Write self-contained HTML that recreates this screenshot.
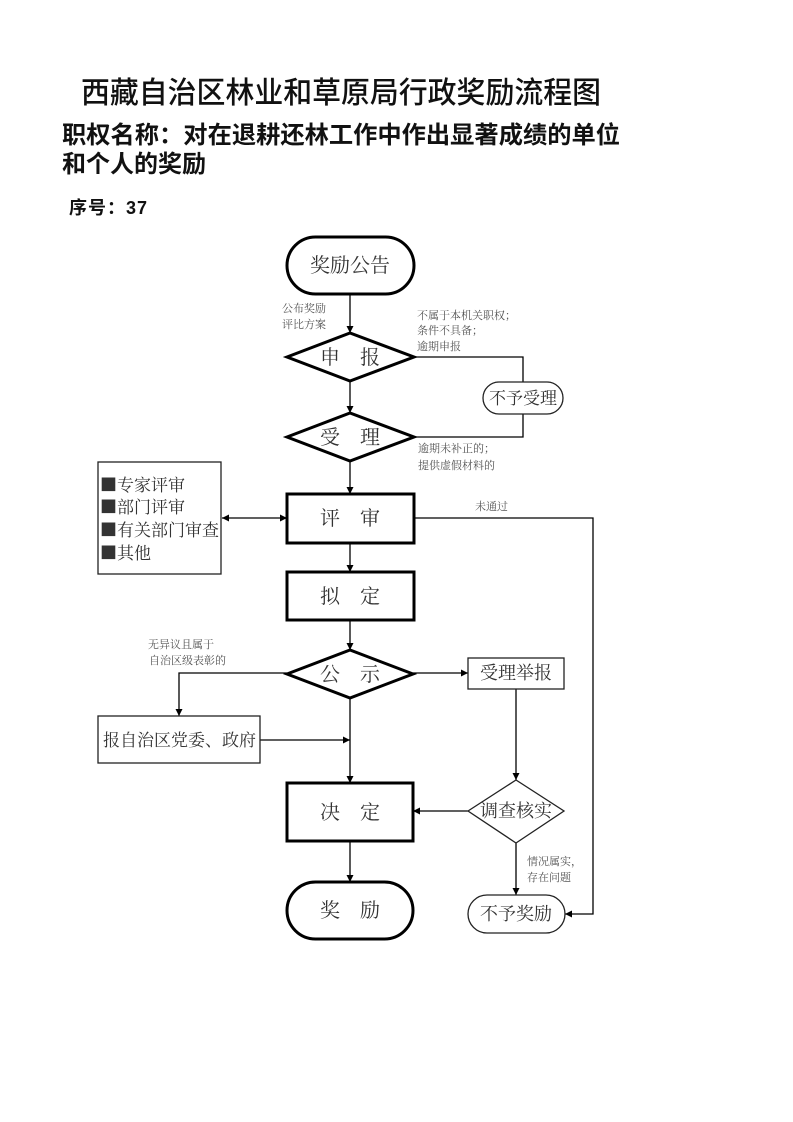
<!DOCTYPE html>
<html>
<head>
<meta charset="utf-8">
<style>
html,body{margin:0;padding:0;background:#fff;}
svg{display:block;}
.t{font-family:"Liberation Sans","Noto Sans CJK SC",sans-serif;fill:#111;}
.n{font-family:"Liberation Serif","Noto Serif CJK SC",serif;fill:#333;}
.c{font-family:"Noto Serif CJK SC",serif;fill:#333;}
.s{font-family:"Liberation Serif","Noto Serif CJK SC",serif;fill:#555;font-size:11px;}
</style>
</head>
<body>
<svg width="793" height="1122" viewBox="0 0 793 1122" xmlns="http://www.w3.org/2000/svg">
<defs>
<marker id="a" viewBox="0 0 10 10" refX="10" refY="5" markerWidth="7" markerHeight="7" markerUnits="userSpaceOnUse" orient="auto">
<path d="M0,0 L10,5 L0,10 z" fill="#000"/>
</marker>
<marker id="b" viewBox="0 0 10 10" refX="0" refY="5" markerWidth="7" markerHeight="7" markerUnits="userSpaceOnUse" orient="auto">
<path d="M10,0 L0,5 L10,10 z" fill="#000"/>
</marker>
</defs>

<!-- Titles -->
<text class="t" x="81" y="103" font-size="30" font-weight="500" textLength="520" lengthAdjust="spacingAndGlyphs">西藏自治区林业和草原局行政奖励流程图</text>
<text class="t" x="62" y="143" font-size="24" font-weight="bold" textLength="558" lengthAdjust="spacingAndGlyphs">职权名称：对在退耕还林工作中作出显著成绩的单位</text>
<text class="t" x="62" y="172" font-size="24" font-weight="bold">和个人的奖励</text>
<text class="t" x="69" y="214" font-size="18" font-weight="bold" textLength="78" lengthAdjust="spacing">序号：37</text>

<!-- Connectors -->
<g stroke="#000" stroke-width="1.3" fill="none">
<line x1="350" y1="295" x2="350" y2="333" marker-end="url(#a)"/>
<line x1="350" y1="381" x2="350" y2="413" marker-end="url(#a)"/>
<line x1="350" y1="461" x2="350" y2="494" marker-end="url(#a)"/>
<line x1="350" y1="543" x2="350" y2="572" marker-end="url(#a)"/>
<line x1="350" y1="620" x2="350" y2="650" marker-end="url(#a)"/>
<line x1="350" y1="698" x2="350" y2="783" marker-end="url(#a)"/>
<line x1="350" y1="841" x2="350" y2="882" marker-end="url(#a)"/>
<polyline points="414,357 523,357 523,382"/>
<polyline points="523,414 523,437 414,437"/>
<line x1="222" y1="518" x2="287" y2="518" marker-start="url(#b)" marker-end="url(#a)"/>
<polyline points="414,518 593,518 593,914 565,914" marker-end="url(#a)"/>
<polyline points="287,673 179,673 179,716" marker-end="url(#a)"/>
<line x1="260" y1="740" x2="350" y2="740" marker-end="url(#a)"/>
<line x1="413" y1="673" x2="468" y2="673" marker-end="url(#a)"/>
<line x1="516" y1="689" x2="516" y2="780" marker-end="url(#a)"/>
<line x1="468" y1="811" x2="413" y2="811" marker-end="url(#a)"/>
<line x1="516" y1="843" x2="516" y2="895" marker-end="url(#a)"/>
</g>

<!-- Thick shapes -->
<g stroke="#000" stroke-width="3" fill="#fff">
<rect x="287" y="237" width="127" height="57" rx="28.5" ry="28.5"/>
<polygon points="287,357 350,333 414,357 350,381"/>
<polygon points="287,437 350,413 414,437 350,461"/>
<rect x="287" y="494" width="127" height="49"/>
<rect x="287" y="572" width="127" height="48"/>
<polygon points="287,674 350,650 413,674 350,698"/>
<rect x="287" y="783" width="126" height="58"/>
<rect x="287" y="882" width="126" height="57" rx="28.5" ry="28.5"/>
</g>

<!-- Thin shapes -->
<g stroke="#222" stroke-width="1.3" fill="#fff">
<rect x="483" y="382" width="80" height="32" rx="16" ry="16"/>
<rect x="98" y="462" width="123" height="112"/>
<rect x="98" y="716" width="162" height="47"/>
<rect x="468" y="658" width="96" height="31"/>
<polygon points="468,811 516,780 564,811 516,843"/>
<rect x="468" y="895" width="97" height="38" rx="19" ry="19"/>
</g>

<!-- Node text -->
<g class="n" font-size="20" text-anchor="middle">
<text x="350" y="272">奖励公告</text>
<text x="350" y="364">申　报</text>
<text x="350" y="444">受　理</text>
<text x="350" y="525">评　审</text>
<text x="350" y="603">拟　定</text>
<text x="350" y="681">公　示</text>
<text x="350" y="819">决　定</text>
<text x="350" y="917">奖　励</text>
</g>
<g class="n" text-anchor="middle">
<text x="523" y="404" font-size="17">不予受理</text>
<text x="516" y="679" font-size="18">受理举报</text>
<text x="516" y="817" font-size="18">调查核实</text>
<text x="516" y="920" font-size="18">不予奖励</text>
</g>
<text class="n" x="103" y="746" font-size="17" textLength="153" lengthAdjust="spacingAndGlyphs">报自治区党委、政府</text>
<g class="c" font-size="17">
<text x="100" y="491">■专家评审</text>
<text x="100" y="513">■部门评审</text>
<text x="100" y="536">■有关部门审查</text>
<text x="100" y="559">■其他</text>
</g>

<!-- Small labels -->
<text class="s" x="282" y="312">公布奖励</text>
<text class="s" x="282" y="328">评比方案</text>
<text class="s" x="417" y="319">不属于本机关职权；</text>
<text class="s" x="417" y="334">条件不具备；</text>
<text class="s" x="417" y="350">逾期申报</text>
<text class="s" x="418" y="452">逾期未补正的；</text>
<text class="s" x="418" y="469">提供虚假材料的</text>
<text class="s" x="475" y="510">未通过</text>
<text class="s" x="148" y="648">无异议且属于</text>
<text class="s" x="149" y="664">自治区级表彰的</text>
<text class="s" x="527" y="865">情况属实，</text>
<text class="s" x="527" y="881">存在问题</text>
</svg>
</body>
</html>
